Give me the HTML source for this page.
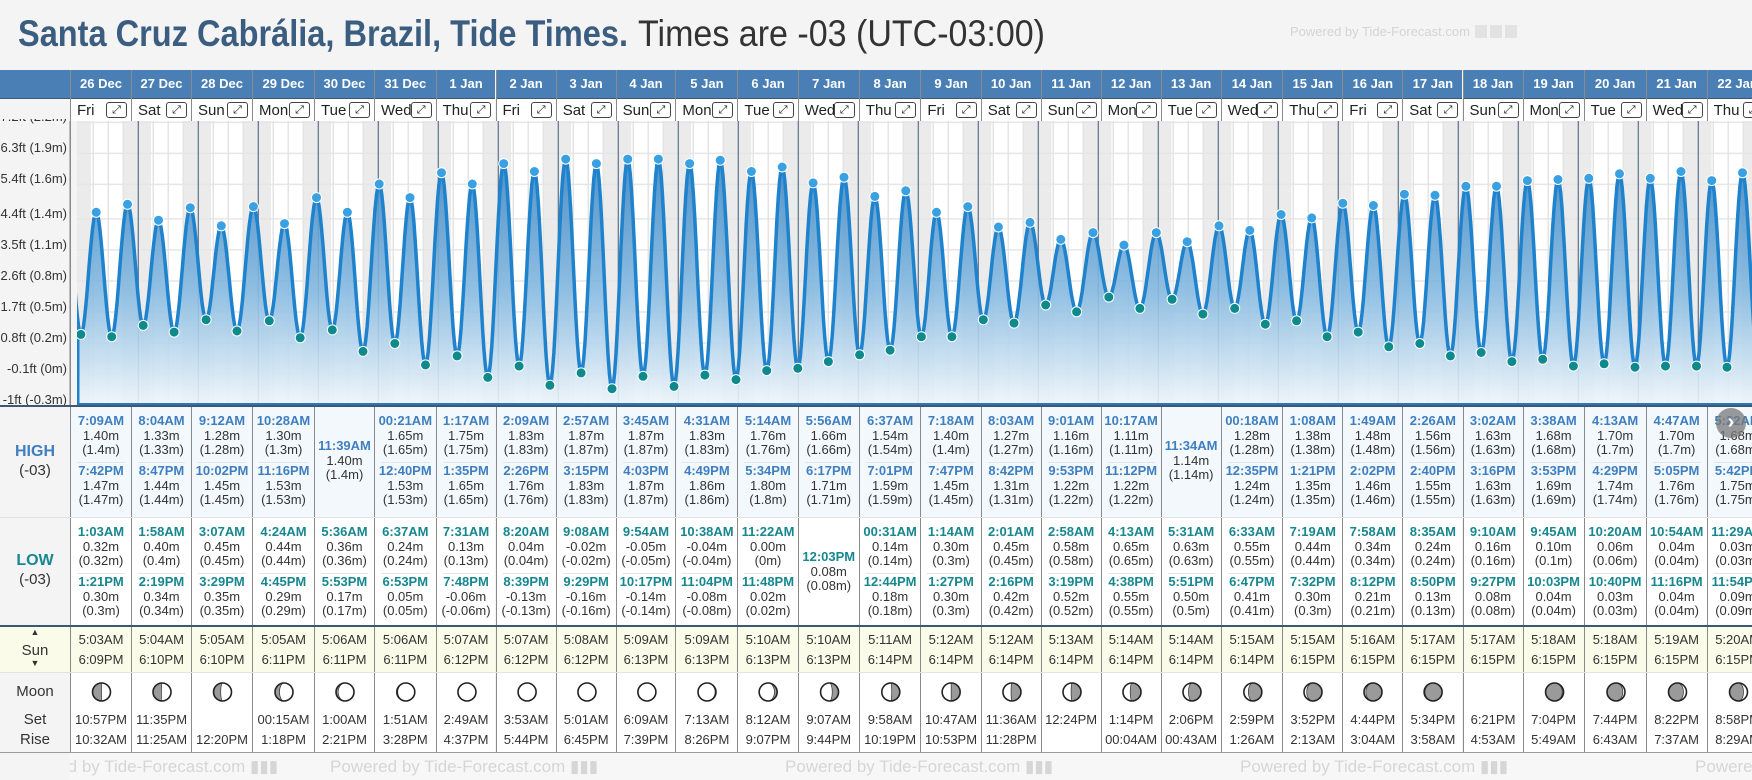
<!DOCTYPE html>
<html><head><meta charset="utf-8">
<style>
html,body{margin:0;padding:0;}
body{width:1752px;height:780px;overflow:hidden;position:relative;background:#f4f4f4;font-family:"Liberation Sans",Arial,sans-serif;}
.abs{position:absolute;}
.col{position:absolute;box-sizing:border-box;border-left:1px solid #8a8a8a;}
.t{position:absolute;left:0;right:0;text-align:center;font-size:13px;line-height:14px;color:#333;white-space:nowrap;}
.hb{font-weight:bold;color:#3f7fbf;}
.lb{font-weight:bold;color:#17878f;}
.lab{position:absolute;left:0;width:70px;text-align:center;font-size:15px;color:#333;}
.ylab{position:absolute;right:1685px;font-size:13px;color:#333;white-space:nowrap;}
</style></head>
<body>
<svg class="abs" style="left:0;top:0" width="1752" height="60">
<text x="18" y="46" font-size="37" font-weight="bold" fill="#3b5e80" textLength="610" lengthAdjust="spacingAndGlyphs" font-family="Liberation Sans, sans-serif">Santa Cruz Cabrália, Brazil, Tide Times.</text>
<text x="638" y="46" font-size="37" fill="#333" textLength="407" lengthAdjust="spacingAndGlyphs" font-family="Liberation Sans, sans-serif">Times are -03 (UTC-03:00)</text>
<text x="1290" y="36" font-size="13" fill="#d4d4d4" font-family="Liberation Sans, sans-serif">Powered by Tide-Forecast.com</text>
<rect x="1475" y="25" width="12" height="13" fill="#e2e2e2"/><rect x="1490" y="25" width="12" height="13" fill="#e2e2e2"/><rect x="1505" y="25" width="12" height="13" fill="#e2e2e2"/>
</svg>

<div id="cols"></div>

<svg id="chart" class="abs" style="left:0;top:0" width="1752" height="410"></svg>

<div id="ylabs"></div>

<div class="abs" style="left:0;top:70px;width:70px;height:28px;background:#4a7fb5;"></div>
<div class="abs" style="left:0;top:98px;width:70px;height:21px;background:#f4f4f4;border-top:1px solid #3d5873;box-sizing:border-box"></div>

<div class="abs" style="left:0;top:405px;width:1752px;height:2px;background:#3d5873"></div>
<div class="abs" style="left:0;top:625px;width:1752px;height:2px;background:#3d5873"></div>
<div class="abs" style="left:0;top:517px;width:1752px;height:1px;background:#e2e2e2"></div>
<div class="abs" style="left:0;top:672px;width:1752px;height:1px;background:#e2e2e2"></div>
<div class="abs" style="left:0;top:752px;width:1752px;height:1px;background:#9a9a9a"></div>

<div class="lab" style="top:443px;font-weight:bold;color:#3f7fbf;font-size:16px">HIGH</div>
<div class="lab" style="top:462px;font-size:15px">(-03)</div>
<div class="lab" style="top:552px;font-weight:bold;color:#17878f;font-size:16px">LOW</div>
<div class="lab" style="top:571px;font-size:15px">(-03)</div>
<div class="abs" style="left:0;top:627px;width:70px;height:45px;background:#fbfbe9"></div>
<div class="lab" style="top:627px;font-size:9px">▲</div>
<div class="lab" style="top:642px;font-size:15px">Sun</div>
<div class="lab" style="top:658px;font-size:9px">▼</div>
<div class="lab" style="top:683px">Moon</div>
<div class="lab" style="top:711px">Set</div>
<div class="lab" style="top:731px">Rise</div>

<div class="abs" style="left:70px;top:753px;width:1682px;height:27px;overflow:hidden;background:#f7f7f7">
<div class="abs" style="left:-60px;top:4px;font-size:17px;color:#d6d6d6;white-space:nowrap">Powered by Tide-Forecast.com ▮▮▮</div>
<div class="abs" style="left:260px;top:4px;font-size:17px;color:#d6d6d6;white-space:nowrap">Powered by Tide-Forecast.com ▮▮▮</div>
<div class="abs" style="left:715px;top:4px;font-size:17px;color:#d6d6d6;white-space:nowrap">Powered by Tide-Forecast.com ▮▮▮</div>
<div class="abs" style="left:1170px;top:4px;font-size:17px;color:#d6d6d6;white-space:nowrap">Powered by Tide-Forecast.com ▮▮▮</div>
<div class="abs" style="left:1625px;top:4px;font-size:17px;color:#d6d6d6;white-space:nowrap">Powered by</div>
</div>

<div class="abs" style="left:1716px;top:408px;width:30px;height:30px;border-radius:50%;background:rgba(120,120,120,0.75);color:#fff;font-size:20px;line-height:28px;text-align:center;font-weight:bold">›</div>

<script>
const days=["26 Dec","27 Dec","28 Dec","29 Dec","30 Dec","31 Dec","1 Jan","2 Jan","3 Jan","4 Jan","5 Jan","6 Jan","7 Jan","8 Jan","9 Jan","10 Jan","11 Jan","12 Jan","13 Jan","14 Jan","15 Jan","16 Jan","17 Jan","18 Jan","19 Jan","20 Jan","21 Jan","22 Jan"];
const dows=["Fri","Sat","Sun","Mon","Tue","Wed","Thu","Fri","Sat","Sun","Mon","Tue","Wed","Thu","Fri","Sat","Sun","Mon","Tue","Wed","Thu","Fri","Sat","Sun","Mon","Tue","Wed","Thu"];
const highTimes=[["7:09AM","7:42PM"],["8:04AM","8:47PM"],["9:12AM","10:02PM"],["10:28AM","11:16PM"],["11:39AM"],["00:21AM","12:40PM"],["1:17AM","1:35PM"],["2:09AM","2:26PM"],["2:57AM","3:15PM"],["3:45AM","4:03PM"],["4:31AM","4:49PM"],["5:14AM","5:34PM"],["5:56AM","6:17PM"],["6:37AM","7:01PM"],["7:18AM","7:47PM"],["8:03AM","8:42PM"],["9:01AM","9:53PM"],["10:17AM","11:12PM"],["11:34AM"],["00:18AM","12:35PM"],["1:08AM","1:21PM"],["1:49AM","2:02PM"],["2:26AM","2:40PM"],["3:02AM","3:16PM"],["3:38AM","3:53PM"],["4:13AM","4:29PM"],["4:47AM","5:05PM"],["5:22AM","5:42PM"]];
const highVals=[[1.40,1.47],[1.33,1.44],[1.28,1.45],[1.30,1.53],[1.40],[1.65,1.53],[1.75,1.65],[1.83,1.76],[1.87,1.83],[1.87,1.87],[1.83,1.86],[1.76,1.80],[1.66,1.71],[1.54,1.59],[1.40,1.45],[1.27,1.31],[1.16,1.22],[1.11,1.22],[1.14],[1.28,1.24],[1.38,1.35],[1.48,1.46],[1.56,1.55],[1.63,1.63],[1.68,1.69],[1.70,1.74],[1.70,1.76],[1.68,1.75]];
const lowTimes=[["1:03AM","1:21PM"],["1:58AM","2:19PM"],["3:07AM","3:29PM"],["4:24AM","4:45PM"],["5:36AM","5:53PM"],["6:37AM","6:53PM"],["7:31AM","7:48PM"],["8:20AM","8:39PM"],["9:08AM","9:29PM"],["9:54AM","10:17PM"],["10:38AM","11:04PM"],["11:22AM","11:48PM"],["12:03PM"],["00:31AM","12:44PM"],["1:14AM","1:27PM"],["2:01AM","2:16PM"],["2:58AM","3:19PM"],["4:13AM","4:38PM"],["5:31AM","5:51PM"],["6:33AM","6:47PM"],["7:19AM","7:32PM"],["7:58AM","8:12PM"],["8:35AM","8:50PM"],["9:10AM","9:27PM"],["9:45AM","10:03PM"],["10:20AM","10:40PM"],["10:54AM","11:16PM"],["11:29AM","11:54PM"]];
const lowVals=[[0.32,0.30],[0.40,0.34],[0.45,0.35],[0.44,0.29],[0.36,0.17],[0.24,0.05],[0.13,-0.06],[0.04,-0.13],[-0.02,-0.16],[-0.05,-0.14],[-0.04,-0.08],[0.00,0.02],[0.08],[0.14,0.18],[0.30,0.30],[0.45,0.42],[0.58,0.52],[0.65,0.55],[0.63,0.50],[0.55,0.41],[0.44,0.30],[0.34,0.21],[0.24,0.13],[0.16,0.08],[0.10,0.04],[0.06,0.03],[0.04,0.04],[0.03,0.09]];
const sunrise=["5:03AM","5:04AM","5:05AM","5:05AM","5:06AM","5:06AM","5:07AM","5:07AM","5:08AM","5:09AM","5:09AM","5:10AM","5:10AM","5:11AM","5:12AM","5:12AM","5:13AM","5:14AM","5:14AM","5:15AM","5:15AM","5:16AM","5:17AM","5:17AM","5:18AM","5:18AM","5:19AM","5:20AM"];
const sunset=["6:09PM","6:10PM","6:10PM","6:11PM","6:11PM","6:11PM","6:12PM","6:12PM","6:12PM","6:13PM","6:13PM","6:13PM","6:13PM","6:14PM","6:14PM","6:14PM","6:14PM","6:14PM","6:14PM","6:14PM","6:15PM","6:15PM","6:15PM","6:15PM","6:15PM","6:15PM","6:15PM","6:15PM"];
const moonSet=["10:57PM","11:35PM","","00:15AM","1:00AM","1:51AM","2:49AM","3:53AM","5:01AM","6:09AM","7:13AM","8:12AM","9:07AM","9:58AM","10:47AM","11:36AM","12:24PM","1:14PM","2:06PM","2:59PM","3:52PM","4:44PM","5:34PM","6:21PM","7:04PM","7:44PM","8:22PM","8:58PM"];
const moonRise=["10:32AM","11:25AM","12:20PM","1:18PM","2:21PM","3:28PM","4:37PM","5:44PM","6:45PM","7:39PM","8:26PM","9:07PM","9:44PM","10:19PM","10:53PM","11:28PM","","00:04AM","00:43AM","1:26AM","2:13AM","3:04AM","3:58AM","4:53AM","5:49AM","6:43AM","7:37AM","8:29AM"];
const moonSide=["L","L","L","L","L","L","L","L","L","L","R","R","R","R","R","R","R","R","R","R","R","R","R","","L","L","L","L"];
const moonDark=[0.5,0.47,0.4,0.25,0.12,0.05,0,0,0,0,0.05,0.15,0.35,0.45,0.5,0.55,0.55,0.6,0.7,0.75,0.85,0.9,0.95,-1,0.93,0.88,0.83,0.78];
const yTicksFt=[7.2,6.3,5.4,4.4,3.5,2.6,1.7,0.8,-0.1,-1];
const yTicksM=["2.2","1.9","1.6","1.4","1.1","0.8","0.5","0.2","0","-0.3"];

const colX=[70,131,191,252,314,374,435.6,495.5,555.7,615.6,675.4,737.4,797.7,858.8,920.4,980.7,1040.6,1100.6,1160.6,1220.6,1282.3,1342.3,1402.3,1462.5,1522.5,1583.6,1645.6,1706.6,1767.6];
const X0=78.3, DAYW=60.0;
function yM(m){return 370.6-113.1*m;}
function xT(d,h){return X0+(d+h/24)*DAYW;}
function hrs(s){const m=s.match(/(\d+):(\d+)(AM|PM)/);let h=parseInt(m[1],10)%12;if(m[3]==="PM")h+=12;return h+parseInt(m[2],10)/60;}
function paren(v){return "("+String(parseFloat(v.toFixed(2)))+"m)";}

const cols=document.getElementById('cols');
function add(parent,tag,cls,style,text){const e=document.createElement(tag);if(cls)e.className=cls;if(style)e.setAttribute('style',style);if(text!==undefined)e.textContent=text;parent.appendChild(e);return e;}
for(let d=0;d<days.length;d++){
  const x=colX[d], w=colX[d+1]-colX[d];
  const c=add(cols,'div','col','left:'+x+'px;top:70px;width:'+w+'px;height:683px;overflow:hidden;');
  
  
  const hd=add(c,'div','','position:absolute;left:0;top:0;width:100%;height:28px;background:#4a7fb5;border-left:1px solid #8fb3d6;margin-left:-1px;color:#fff;font-weight:bold;font-size:13px;line-height:28px;text-align:center;',days[d]);
  
  
  const dr=add(c,'div','','position:absolute;left:0;top:28px;width:100%;height:23px;background:#fff;border-top:1px solid #3d5873;box-sizing:border-box;');
  const dw=add(dr,'div','','position:absolute;left:6px;top:3px;font-size:15px;color:#222;',dows[d]);
  
  
  const ex=add(dr,'div','','position:absolute;right:4px;top:3px;width:19px;height:14px;border:1px solid #444;border-radius:3px;font-size:11px;line-height:14px;text-align:center;color:#222;','⤢');
  
  
  const hs=add(c,'div','','position:absolute;left:0;top:337px;width:100%;height:110px;background:#f3f8fd;');
  const ht=highTimes[d], hv=highVals[d];
  const hTops=ht.length===2?[8,58]:[33];
  for(let i=0;i<ht.length;i++){
    const y=hTops[i];
    const a=add(hs,'div','t hb','top:'+(y-1)+'px;',ht[i]);
    
    
    add(hs,'div','t','top:'+(y+14)+'px;',hv[i].toFixed(2)+'m');
    add(hs,'div','t','top:'+(y+28)+'px;',paren(hv[i]));
  }
  if(ht.length===2)add(hs,'div','','position:absolute;left:6px;right:6px;top:55px;height:1px;background:#e6e6e6;');
  const ls=add(c,'div','','position:absolute;left:0;top:448px;width:100%;height:107px;background:#fff;');
  const lt=lowTimes[d], lv=lowVals[d];
  const lTops=lt.length===2?[8,58]:[33];
  for(let i=0;i<lt.length;i++){
    const y=lTops[i];
    const a=add(ls,'div','t lb','top:'+(y-1)+'px;',lt[i]);
    
    
    add(ls,'div','t','top:'+(y+14)+'px;',lv[i].toFixed(2)+'m');
    add(ls,'div','t','top:'+(y+28)+'px;',paren(lv[i]));
  }
  if(lt.length===2)add(ls,'div','','position:absolute;left:6px;right:6px;top:55px;height:1px;background:#e6e6e6;');
  const ss=add(c,'div','','position:absolute;left:0;top:557px;width:100%;height:45px;background:#fbfbe9;');
  const sr=add(ss,'div','t','top:6px;',sunrise[d]);
  
  
  const st=add(ss,'div','t','top:26px;',sunset[d]);
  
  
  const ms=add(c,'div','','position:absolute;left:0;top:603px;width:100%;height:79px;background:#fff;');
  if(moonDark[d]>=0){
    const r=9, cx=w/2, cy=19;
    let p='';
    const f=moonDark[d], rx=(r*Math.abs(1-2*f)).toFixed(2);
    if(f>0){
      if(moonSide[d]==='R'){p='M'+cx+','+(cy-r)+' A'+r+','+r+' 0 0 1 '+cx+','+(cy+r)+' A'+rx+','+r+' 0 0 '+(f<0.5?0:1)+' '+cx+','+(cy-r)+'Z';}
      else{p='M'+cx+','+(cy-r)+' A'+r+','+r+' 0 0 0 '+cx+','+(cy+r)+' A'+rx+','+r+' 0 0 '+(f<0.5?1:0)+' '+cx+','+(cy-r)+'Z';}
    }
    const sv=document.createElementNS('http://www.w3.org/2000/svg','svg');
    sv.setAttribute('width',w);sv.setAttribute('height',40);sv.setAttribute('style','position:absolute;left:0;top:0');
    sv.innerHTML='<circle cx="'+cx+'" cy="'+cy+'" r="'+r+'" fill="#fff"/>'+(p?'<path d="'+p+'" fill="#9a9a9a" stroke="#333" stroke-width="0.7"/>':'')+'<circle cx="'+cx+'" cy="'+cy+'" r="'+r+'" fill="none" stroke="#222" stroke-width="1.6"/>';
    
    
    ms.appendChild(sv);
  }
  const mset=add(ms,'div','t','top:40px;',moonSet[d]);
  
  
  const mr=add(ms,'div','t','top:60px;',moonRise[d]);
  
  
}

const yl=document.getElementById('ylabs');
for(let i=0;i<yTicksFt.length;i++){
  const y=yM(yTicksFt[i]/3.2808)-13;
  const e=add(yl,'div','ylab','top:'+y.toFixed(1)+'px;',yTicksFt[i]+'ft ('+yTicksM[i]+'m)');
  
  
}

const svg=document.getElementById('chart');
let h='<defs><clipPath id="cp"><rect x="77" y="121" width="1675" height="284"/></clipPath>'+
'<linearGradient id="fg" gradientUnits="userSpaceOnUse" x1="0" y1="150" x2="0" y2="405"><stop offset="0" stop-color="#3783c2"/><stop offset="0.55" stop-color="#85b9e0"/><stop offset="1" stop-color="#eef5fb"/></linearGradient></defs>';
h+='<rect x="77" y="121" width="1675" height="284" fill="#fff"/>';
h+='<g clip-path="url(#cp)">';
let bands='';
bands+='<rect x="'+xT(-1,hrs(sunset[0]))+'" y="121" width="'+(xT(0,hrs(sunrise[0]))-xT(-1,hrs(sunset[0])))+'" height="284" fill="#ebebeb"/>';
for(let d=0;d<days.length;d++){
  const a=xT(d,hrs(sunset[d])), b=xT(d+1,hrs(sunrise[Math.min(d+1,days.length-1)]));
  bands+='<rect x="'+a.toFixed(1)+'" y="121" width="'+(b-a).toFixed(1)+'" height="284" fill="#ebebeb"/>';
}
h+=bands;
for(let i=0;i<yTicksFt.length;i++){const y=yM(yTicksFt[i]/3.2808).toFixed(1);h+='<line x1="77" x2="1752" y1="'+y+'" y2="'+y+'" stroke="#e6e6e6" stroke-width="1.5"/>';}
for(let d=-1;d<=days.length;d++){for(let k=1;k<4;k++){const x=xT(d,k*6).toFixed(1);h+='<line x1="'+x+'" x2="'+x+'" y1="121" y2="405" stroke="#e4e4e4" stroke-width="1.5"/>';}}
for(let d=1;d<=days.length;d++){const x=xT(d,0).toFixed(1);h+='<line x1="'+x+'" x2="'+x+'" y1="121" y2="405" stroke="#5d7289" stroke-width="1.2"/>';}
const ev=[{x:xT(-1,19.2),y:yM(1.45),t:'H',pre:1}];
for(let d=0;d<days.length;d++){
  highTimes[d].forEach((t,i)=>ev.push({x:xT(d,hrs(t)),y:yM(highVals[d][i]),t:'H'}));
  lowTimes[d].forEach((t,i)=>ev.push({x:xT(d,hrs(t)),y:yM(lowVals[d][i]),t:'L'}));
}
ev.push({x:xT(days.length,6),y:yM(1.66),t:'H',pre:1});
ev.sort((a,b)=>a.x-b.x);
let pts=[];
for(let i=0;i<ev.length-1;i++){const a=ev[i],b=ev[i+1];for(let s=0;s<12;s++){const u=s/12;const v=(1-Math.cos(Math.PI*u))/2;pts.push([a.x+(b.x-a.x)*u,a.y+(b.y-a.y)*v]);}}
pts.push([ev[ev.length-1].x,ev[ev.length-1].y]);
pts=pts.filter(p=>p[0]>=60&&p[0]<=1780);
const line=pts.map((p,i)=>(i?'L':'M')+p[0].toFixed(1)+','+p[1].toFixed(1)).join(' ');
h+='<path d="'+line+' L'+pts[pts.length-1][0].toFixed(1)+',405 L'+pts[0][0].toFixed(1)+',405Z" fill="url(#fg)" fill-opacity="0.9"/>';
h+='<path d="'+line+'" fill="none" stroke="#1f82cc" stroke-width="3.5" stroke-linejoin="round"/>';
h+='<line x1="78" x2="78" y1="320" y2="405" stroke="#1f82cc" stroke-width="3"/>';
ev.forEach(e=>{if(e.pre)return;h+='<circle cx="'+e.x.toFixed(1)+'" cy="'+e.y.toFixed(1)+'" r="5" fill="'+(e.t==='H'?'#39a0e2':'#0e8a8c')+'" stroke="#fff" stroke-width="1"/>';});
h+='</g>';
h+='<line x1="77" x2="1752" y1="404" y2="404" stroke="#2a78b8" stroke-width="2"/>';
h+='<line x1="70" x2="70" y1="121" y2="405" stroke="#888" stroke-width="1"/>';
svg.innerHTML=h;
svg.querySelectorAll('circle').forEach(c=>{
  
  
});
</script>
</body></html>
